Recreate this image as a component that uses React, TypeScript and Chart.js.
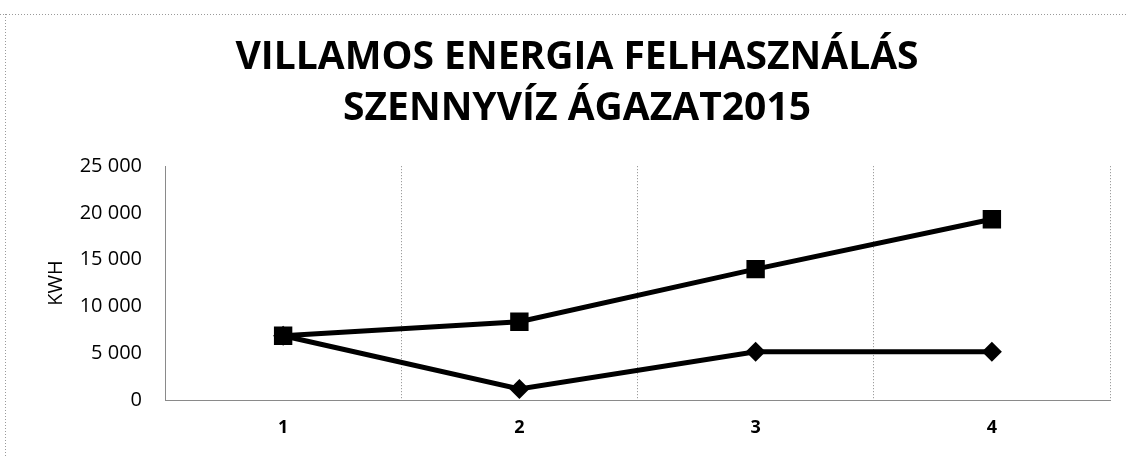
import React, { useEffect, useRef } from "react";
import { Chart, registerables } from "chart.js";

Chart.register(...registerables);

const categories = ["1", "2", "3", "4"];
const squareSeries = [6870, 8360, 13990, 19330];
const diamondSeries = [6870, 1170, 5160, 5160];
const yTicks = [0, 5000, 10000, 15000, 20000, 25000];
const titleLines = ["VILLAMOS ENERGIA FELHASZNÁLÁS", "SZENNYVÍZ ÁGAZAT2015"];
const yAxisTitle = "KWH";

const fmt = (v: number) => {
  const s = Math.round(v).toString();
  return s.replace(/\B(?=(\d{3})+(?!\d))/g, " ");
};

const pageBorder = {
  id: "pageBorder",
  beforeDraw(chart: any) {
    const ctx = chart.ctx;
    ctx.save();
    ctx.strokeStyle = "#9a9a9a";
    ctx.lineWidth = 1;
    ctx.setLineDash([1, 2]);
    ctx.beginPath();
    ctx.moveTo(0, 14.5);
    ctx.lineTo(1126, 14.5);
    ctx.moveTo(5.5, 14);
    ctx.lineTo(5.5, 457);
    ctx.stroke();
    ctx.restore();
  },
};

export default function App() {
  const ref = useRef<HTMLCanvasElement | null>(null);
  useEffect(() => {
    if (!ref.current) return;
    const chart = new Chart(ref.current, {
      type: "line",
      data: {
        labels: categories,
        datasets: [
          {
            label: "A",
            data: squareSeries,
            borderColor: "#000",
            backgroundColor: "#000",
            borderWidth: 5,
            pointStyle: "rect",
            pointRadius: 13,
            pointBackgroundColor: "#000",
            pointBorderColor: "#000",
            pointBorderWidth: 0,
            tension: 0,
            order: 0,
          },
          {
            label: "B",
            data: diamondSeries,
            borderColor: "#000",
            backgroundColor: "#000",
            borderWidth: 5,
            pointStyle: "rectRot",
            pointRadius: 10,
            pointBackgroundColor: "#000",
            pointBorderColor: "#000",
            pointBorderWidth: 0,
            tension: 0,
            order: 1,
          },
        ],
      },
      options: {
        responsive: false,
        animation: false,
        layout: { padding: { top: 20, left: 44, right: 16, bottom: 0 } },
        plugins: {
          legend: { display: false },
          tooltip: { enabled: false },
          title: {
            display: true,
            text: titleLines,
            color: "#000",
            font: { family: "'Open Sans'", size: 39, weight: "bold", lineHeight: 1.31 },
            padding: { top: 12, bottom: 32 },
          },
        },
        scales: {
          x: {
            type: "category",
            offset: true,
            grid: {
              display: true,
              offset: true,
              drawTicks: false,
              color: "#8a8a8a",
              lineWidth: 1,
            },
            border: { display: true, color: "#8a8a8a", dash: [1, 2] },
            ticks: {
              color: "#000",
              padding: 17,
              font: { family: "'Open Sans'", size: 18, weight: "bold" },
            },
            afterFit: (scale: any) => {
              scale.height = 57;
            },
          },
          y: {
            min: 0,
            max: 25000,
            afterBuildTicks: (scale: any) => {
              scale.ticks = yTicks.map((v) => ({ value: v }));
            },
            grid: { display: false, drawTicks: false },
            border: { display: true, color: "#8a8a8a", dash: [1, 2] },
            ticks: {
              color: "#000",
              padding: 23,
              font: { family: "'Open Sans'", size: 20 },
              callback: (v: any) => fmt(Number(v)),
            },
            title: {
              display: true,
              text: yAxisTitle,
              color: "#000",
              font: { family: "'Open Sans'", size: 20 },
              padding: { top: 0, bottom: 0 },
            },
            afterFit: (scale: any) => {
              scale.width = 121;
            },
          },
        },
      },
      plugins: [pageBorder],
    });
    (chart.options.scales as any).x.grid.borderDash = [1, 2];
    chart.update();
    return () => chart.destroy();
  }, []);
  return (
    <div style={{ position: "absolute", left: 0, top: 0, width: 1126, height: 457, background: "#fff" }}>
      <canvas ref={ref} width={1126} height={457} />
    </div>
  );
}
